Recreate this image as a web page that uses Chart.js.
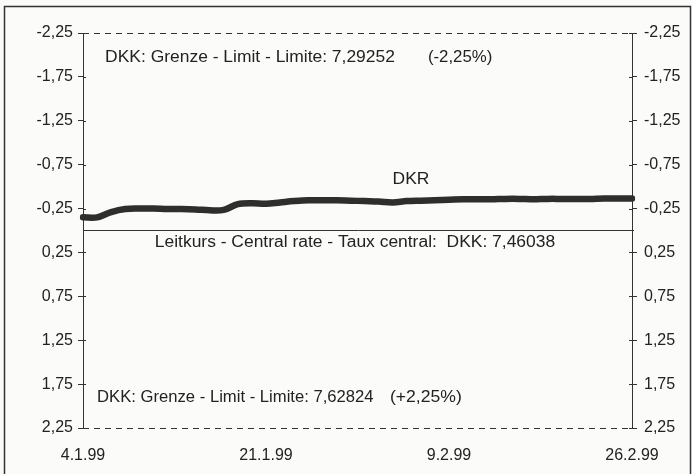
<!DOCTYPE html>
<html><head><meta charset="utf-8">
<script src="https://cdn.jsdelivr.net/npm/chart.js@4/dist/chart.umd.min.js"></script>
<style>html,body{margin:0;padding:0;background:#fbfbfa;}#wrap{width:692px;height:474px;}</style>
</head><body><div id="wrap"><canvas id="c" width="692" height="474"></canvas></div>
<script>
// Business days 4.1.99 - 26.2.99
const dates = ['4.1.99','5.1.99','6.1.99','7.1.99','8.1.99','11.1.99','12.1.99','13.1.99','14.1.99','15.1.99',
  '18.1.99','19.1.99','20.1.99','21.1.99','22.1.99','25.1.99','26.1.99','27.1.99','28.1.99','29.1.99',
  '1.2.99','2.2.99','3.2.99','4.2.99','5.2.99','8.2.99','9.2.99','10.2.99','11.2.99','12.2.99',
  '15.2.99','16.2.99','17.2.99','18.2.99','19.2.99','22.2.99','23.2.99','24.2.99','25.2.99','26.2.99'];
// DKR deviation from central rate (%)
const dkr = [-0.15,-0.15,-0.21,-0.245,-0.25,-0.25,-0.245,-0.245,-0.24,-0.23,
  -0.235,-0.30,-0.31,-0.305,-0.32,-0.335,-0.345,-0.345,-0.345,-0.34,
  -0.335,-0.33,-0.32,-0.335,-0.34,-0.345,-0.35,-0.355,-0.355,-0.355,
  -0.36,-0.36,-0.355,-0.36,-0.36,-0.36,-0.36,-0.365,-0.365,-0.365];
const xTickLabels = ['4.1.99','21.1.99','9.2.99','26.2.99'];
const yTicks = [-2.25,-1.75,-1.25,-0.75,-0.25,0.25,0.75,1.25,1.75,2.25];
const upperLimit = -2.25, lowerLimit = 2.25, centralRate = 0;
const seriesName = 'DKR';
const upperText = ['DKK: Grenze - Limit - Limite: 7,29252', '(-2,25%)'];
const lowerText = ['DKK: Grenze - Limit - Limite: 7,62824', '(+2,25%)'];
const centralText = 'Leitkurs - Central rate - Taux central:  DKK: 7,46038';

const FONT = '"Liberation Sans", Arial, sans-serif';
const TXT = '#222';
const fmt = v => v.toFixed(2).replace('.', ',');
const setYTicks = s => { s.ticks = yTicks.map(v => ({value: v})); };
const setXTicks = s => { s.ticks = s.ticks.filter(t => xTickLabels.includes(dates[t.value])); };

function wideText(c, str, px, py, k, align) {
  c.save();
  c.translate(px, py);
  c.scale(k, 1);
  c.textAlign = align || 'left';
  c.fillText(str, 0, 0);
  c.restore();
}

const deco = {
  id: 'deco',
  beforeDraw(chart) {
    const c = chart.ctx;
    c.save();
    c.fillStyle = '#fbfbfa';
    c.fillRect(0, 0, chart.width, chart.height);
    c.strokeStyle = '#333'; c.lineWidth = 1.5;
    c.strokeRect(4.5, 6.5, 686, 472);
    c.restore();
  },
  afterDatasetsDraw(chart) {
    const c = chart.ctx, x = chart.scales.x, y = chart.scales.y, a = chart.chartArea;
    c.save();
    c.strokeStyle = '#333'; c.lineWidth = 1;
    c.setLineDash([6, 5]);
    [upperLimit, lowerLimit].forEach(v => {
      const py = Math.round(y.getPixelForValue(v)) + 0.5;
      c.beginPath(); c.moveTo(a.left, py); c.lineTo(a.right, py); c.stroke();
    });
    c.setLineDash([]);
    const pc = Math.round(y.getPixelForValue(centralRate)) - 0.5;
    c.beginPath(); c.moveTo(a.left, pc); c.lineTo(a.right + 2, pc); c.stroke();
    yTicks.forEach(v => {
      const py = Math.round(y.getPixelForValue(v)) + 0.5;
      c.beginPath(); c.moveTo(a.left, py); c.lineTo(a.left + 3, py);
      c.moveTo(a.right, py); c.lineTo(a.right - 3, py); c.stroke();
    });
    c.fillStyle = TXT; c.font = '16px ' + FONT; c.textBaseline = 'middle';
    wideText(c, upperText[0], x.getPixelForValue(1.57), y.getPixelForValue(-1.975), 1.09);
    wideText(c, upperText[1], x.getPixelForValue(24.5), y.getPixelForValue(-1.975), 1.05);
    wideText(c, lowerText[0], x.getPixelForValue(1.0), y.getPixelForValue(1.9), 1.04);
    wideText(c, lowerText[1], x.getPixelForValue(21.8), y.getPixelForValue(1.9), 1.1);
    wideText(c, centralText, x.getPixelForValue(5.1), y.getPixelForValue(0.14), 1.09);
    wideText(c, seriesName, x.getPixelForValue(23.3), y.getPixelForValue(-0.575), 1.09, 'center');
    c.restore();
  }
};

const yAxisBase = {
  type: 'linear', min: -2.25, max: 2.25, reverse: true,
  afterBuildTicks: setYTicks,
  grid: { display: true, drawOnChartArea: false, drawTicks: true, tickLength: 5, color: '#333' },
  border: { display: true, color: '#333', width: 1 },
  ticks: { callback: v => fmt(v), color: TXT, font: { family: FONT, size: 16 }, padding: 5 }
};

new Chart(document.getElementById('c'), {
  type: 'line',
  data: { labels: dates, datasets: [{
    label: seriesName, data: dkr, yAxisID: 'y',
    borderColor: '#2e2e2e', borderWidth: 6.5, pointRadius: 0, tension: 0.35,
    borderCapStyle: 'round', borderJoinStyle: 'round'
  }]},
  options: {
    responsive: false, animation: false, devicePixelRatio: 1,
    layout: { padding: { top: 33, left: 0, right: 0, bottom: 0 } },
    plugins: { legend: { display: false }, tooltip: { enabled: false } },
    scales: {
      x: {
        type: 'category', offset: false,
        afterBuildTicks: setXTicks,
        afterFit: s => { s.height = 46; },
        grid: { display: false, drawTicks: false }, border: { display: false },
        ticks: { autoSkip: false, maxRotation: 0, color: TXT, font: { family: FONT, size: 16 }, padding: 18 }
      },
      y: Object.assign({}, yAxisBase, { position: 'left', afterFit: s => { s.width = 83; } }),
      y2: Object.assign({}, yAxisBase, { position: 'right', afterFit: s => { s.width = 60; },
        ticks: Object.assign({}, yAxisBase.ticks, { padding: 7 }) })
    }
  },
  plugins: [deco]
});
</script>
</body></html>
